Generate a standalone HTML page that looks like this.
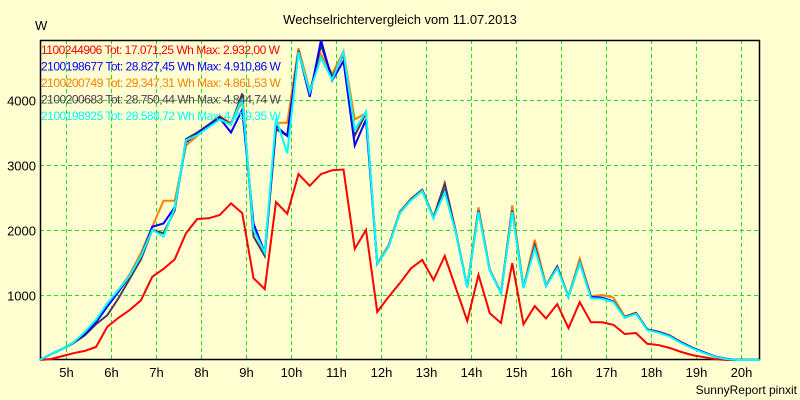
<!DOCTYPE html>
<html><head><meta charset="utf-8"><style>
body{margin:0;background:#ffffd2;}
svg{display:block;font-family:"Liberation Sans",sans-serif;}
</style></head><body>
<svg id="chart" width="800" height="400" viewBox="0 0 800 400">
<rect x="0" y="0" width="800" height="400" fill="#ffffd2"/>
<text x="400" y="24" font-size="13" text-anchor="middle" fill="#000">Wechselrichtervergleich vom 11.07.2013</text>
<text x="35" y="30" font-size="13" fill="#000">W</text>
<g id="grid"></g>
<g id="axes"></g>
<g id="series"></g>
<g id="legend"></g>
<text x="797" y="394" font-size="12" text-anchor="end" fill="#000">SunnyReport pinxit</text>
</svg>
<script>
const yTicks=[1000,2000,3000,4000];
const xTickHours=[5,6,7,8,9,10,11,12,13,14,15,16,17,18,19,20];
const startHour=4+25/60;
const stepHours=0.25;
const red=[0,15,60,105,140,200,510,650,770,920,1280,1400,1550,1950,2170,2180,2230,2410,2260,1260,1090,2430,2250,2860,2680,2860,2920,2930,1710,2000,740,970,1180,1410,1540,1230,1600,1100,600,1310,720,570,1490,550,830,640,860,490,890,580,580,540,400,415,250,230,185,125,75,45,15,0,0,0,0];
const cyan=[0,90,170,270,430,620,870,1080,1300,1600,2000,1900,2340,3380,3460,3580,3700,3620,4030,2000,1650,3720,3180,4740,4120,4650,4310,4740,3540,3820,1480,1740,2260,2460,2600,2180,2580,1950,1120,2280,1380,1030,2280,1110,1720,1140,1410,970,1490,950,940,890,650,710,460,420,360,260,180,110,50,15,0,0,0];
const blue=[0,90,170,270,400,580,820,1050,1300,1600,2050,2100,2350,3350,3480,3600,3720,3500,3850,2100,1650,3600,3450,4750,4050,4920,4300,4600,3300,3700,1480,1740,2260,2460,2600,2180,2600,1950,1120,2290,1380,1030,2290,1110,1740,1140,1420,970,1500,970,960,900,650,720,470,430,370,270,190,120,55,20,0,0,0];
const orange=[0,90,170,270,420,600,850,1080,1320,1650,2050,2450,2450,3300,3450,3600,3740,3650,3980,2050,1650,3650,3650,4800,4150,4700,4400,4750,3700,3800,1490,1760,2280,2480,2620,2200,2700,1970,1130,2350,1390,1040,2380,1120,1850,1150,1440,980,1560,980,1000,960,670,730,470,440,380,280,190,120,55,20,0,0,0];
const dark=[0,90,170,260,380,550,690,950,1250,1550,2000,1950,2300,3400,3500,3620,3750,3620,4100,1900,1600,3550,3450,4760,4100,4840,4350,4700,3450,3800,1480,1750,2270,2480,2620,2190,2720,1960,1120,2300,1390,1030,2300,1110,1760,1140,1440,970,1500,960,950,900,660,720,470,430,370,270,190,120,55,20,0,0,0];
const seriesNames=["1100244906 Tot: 17.071,25 Wh Max: 2.932,00 W","2100198677 Tot: 28.827,45 Wh Max: 4.910,86 W","2100200749 Tot: 29.347,31 Wh Max: 4.861,53 W","2100200683 Tot: 28.750,44 Wh Max: 4.844,74 W","2100198925 Tot: 28.588,72 Wh Max: 4.799,35 W"];
const seriesColors=["#ff0000","#0000ff","#ff8000","#503850","#00ffff"];
const seriesData=[red,blue,orange,dark,cyan];
const seriesKeys=["red","blue","orange","dark","cyan"];
const NS="http://www.w3.org/2000/svg";
const L=40,R=759,T=40,B=359;
function xScale(h){return 66+(h-5)*45;}
function yScale(v){return 360-v*0.065;}
function mk(tag,attrs,parent){const e=document.createElementNS(NS,tag);for(const k in attrs)e.setAttribute(k,attrs[k]);parent.appendChild(e);return e;}
const grid=document.getElementById('grid'),axes=document.getElementById('axes'),ser=document.getElementById('series'),leg=document.getElementById('legend');
yTicks.forEach(v=>{const y=Math.round(yScale(v))+0.5;
const g=mk('line',{x1:L,x2:R,y1:y,y2:y,stroke:'#22dd22','stroke-width':1,'stroke-dasharray':'4,3'},grid);


const t=mk('text',{x:36,y:y+5,'font-size':13,'text-anchor':'end',fill:'#000'},axes);t.textContent=v;


});
xTickHours.forEach(h=>{const x=Math.round(xScale(h))+0.5;
const g=mk('line',{x1:x,x2:x,y1:T,y2:B,stroke:'#22dd22','stroke-width':1,'stroke-dasharray':'4,3'},grid);


const t=mk('text',{x:x,y:377,'font-size':13,'text-anchor':'middle',fill:'#000'},axes);t.textContent=h+'h';


});
const frame=mk('path',{d:`M${L+0.5},${T} V${B+0.5} H${R+0.5} V${T+0.5} H${L}`,fill:'none',stroke:'#000','stroke-width':1.5},axes);


[0,2,3,1,4].forEach(i=>{const d=seriesData[i];
const pts=d.map((v,k)=>xScale(startHour+k*stepHours).toFixed(2)+','+yScale(v).toFixed(2)).join(' ');
const p=mk('polyline',{points:pts,fill:'none',stroke:seriesColors[i],'stroke-width':2,'stroke-linejoin':'miter'},ser);


});
seriesNames.forEach((n,i)=>{const t=mk('text',{x:41,y:54+i*16.5,'font-size':12,'letter-spacing':'-0.5',fill:seriesColors[i]},leg);t.textContent=n;


});
</script>
</body></html>
